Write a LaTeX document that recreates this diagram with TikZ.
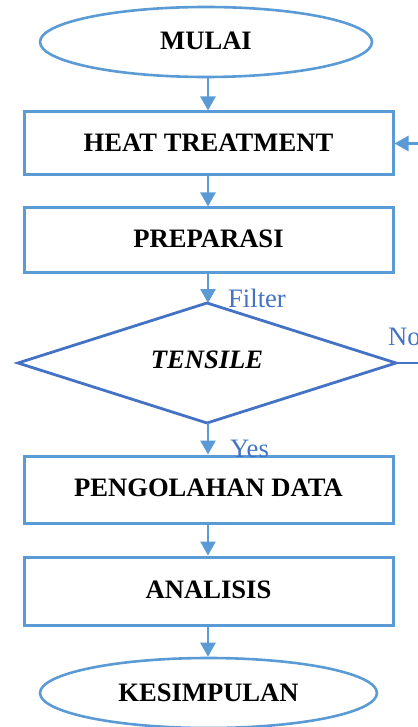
\documentclass[tikz,border=0pt]{standalone}
\usepackage{fontspec}
\setmainfont{Liberation Serif}
\usetikzlibrary{shapes.geometric,arrows.meta}
\definecolor{boxblue}{HTML}{5B9BD5}
\definecolor{darkblue}{HTML}{4472C4}
\begin{document}
\begin{tikzpicture}[x=1pt,y=-1pt,
  txt/.style={font=\fontsize{26.6}{30}\selectfont\bfseries, text=black},
  procbox/.style={draw=boxblue, line width=3pt, rectangle, inner sep=0pt, minimum width=369pt, txt},
  term/.style={draw=boxblue, line width=2.6pt, ellipse, inner sep=0pt, txt},
  decision/.style={draw=darkblue, line width=2.8pt, diamond, inner sep=0pt, txt},
  lbl/.style={font=\fontsize{26.6}{30}\selectfont, text=darkblue, inner sep=0pt},
  flow/.style={draw=boxblue, line width=2.6pt, -{Triangle[length=14pt,width=15pt]}},
  lift/.style={yshift=2pt}
]
\useasboundingbox (0,0) rectangle (417,727);
\node[term, minimum width=332pt, minimum height=70pt] (mulai) at (206,42) {\raisebox{2pt}{MULAI}};
\node[procbox, minimum height=63pt] (heat) at (208.5,143.5) {\raisebox{2.5pt}{HEAT TREATMENT}};
\node[procbox, minimum height=64pt] (prep) at (208.5,240) {\raisebox{2.5pt}{PREPARASI}};
\draw[decision] (207,303) coordinate (dtop) -- (396,363) coordinate (dright) -- (207,423) coordinate (dbot) -- (18,363) coordinate (dleft) -- cycle;
\node[txt, font=\fontsize{26.6}{30}\selectfont\bfseries\itshape] (tensile) at (207,360) {TENSILE};
\node[procbox, minimum height=67pt] (peng) at (208.5,489.5) {\raisebox{3pt}{PENGOLAHAN DATA}};
\node[procbox, minimum height=68pt] (anal) at (208.5,591) {\raisebox{3pt}{ANALISIS}};
\node[term, minimum width=337pt, minimum height=70pt] (kes) at (208.5,693) {KESIMPULAN};
\coordinate (rin) at (420,143.5);
\coordinate (rout) at (420,363);
\draw[flow] (mulai.south -| 208,0) -- (heat.north -| 208,0);
\draw[flow] (heat.south -| 208,0) -- (prep.north -| 208,0);
\draw[flow] (prep.south -| 208,0) -- (dtop -| 208,0);
\draw[flow] (dbot -| 208,0) -- (peng.north -| 208,0);
\draw[flow] (peng.south -| 208,0) -- (anal.north -| 208,0);
\draw[flow] (anal.south -| 208,0) -- (kes.north -| 208,0);
\draw[flow] (rin) -- (heat.east);
\draw[draw=darkblue, line width=2.8pt] (dright) -- (rout);
\node[lbl, anchor=west] (filter) at (228,298) {Filter};
\node[lbl, anchor=west] (yes) at (230,449) {Yes};
\node[lbl, anchor=west] (no) at (388,337) {No};
\end{tikzpicture}
\end{document}
